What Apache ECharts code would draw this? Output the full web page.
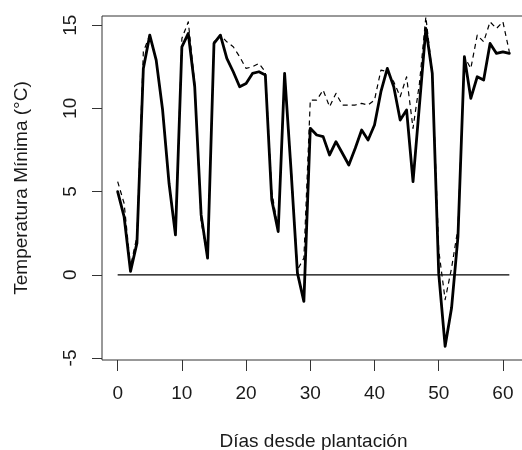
<!DOCTYPE html>
<html>
<head>
<meta charset="utf-8">
<script src="https://cdn.jsdelivr.net/npm/echarts@6/dist/echarts.min.js"></script>
<style>
html,body{margin:0;padding:0;background:#fff;}
#chart{width:522px;height:450px;}
</style>
</head>
<body>
<div id="chart"></div>
<script>
var days = [];
for (var i = 0; i <= 61; i++) days.push(i);

var tminSolid = [5.0, 3.5, 0.2, 1.9, 12.4, 14.4, 12.9, 9.9, 5.5, 2.4,
  13.7, 14.5, 11.3, 3.6, 1.0, 13.9, 14.4, 13.0, 12.2, 11.3,
  11.5, 12.1, 12.2, 12.0, 4.5, 2.6, 12.1, 6.3, 0.1, -1.6,
  8.8, 8.4, 8.3, 7.2, 8.0, 7.3, 6.6, 7.6, 8.7, 8.1,
  9.0, 11.0, 12.4, 11.3, 9.3, 9.9, 5.6, 10.2, 14.8, 12.1,
  0.1, -4.3, -2.0, 2.3, 13.1, 10.6, 11.9, 11.7, 13.9, 13.3,
  13.4, 13.3];

var tminDashed = [5.6, 4.3, 0.5, 2.3, 13.4, 14.4, 12.9, 9.9, 5.5, 2.5,
  14.2, 15.2, 11.5, 3.2, 1.1, 14.0, 14.4, 14.0, 13.7, 13.1,
  12.4, 12.5, 12.7, 12.2, 5.0, 2.7, 12.1, 6.5, 0.3, 1.0,
  10.5, 10.5, 11.1, 10.1, 10.9, 10.2, 10.2, 10.2, 10.3, 10.2,
  10.5, 12.3, 12.2, 11.6, 10.7, 11.9, 8.8, 11.5, 15.5, 12.1,
  1.5, -1.5, 0.4, 2.8, 13.1, 12.4, 14.4, 14.0, 15.2, 14.8,
  15.2, 13.4];

var xTicks = [0, 10, 20, 30, 40, 50, 60];
var yTicks = [-5, 0, 5, 10, 15];
var zeroLine = [[0, 0], [61, 0]];

function pairs(xs, ys) { return xs.map(function (x, i) { return [x, ys[i]]; }); }

var textColor = '#1a1a1a';
var fontFamily = 'Liberation Sans, Arial, sans-serif';
var chart = echarts.init(document.getElementById('chart'), null, { renderer: 'canvas' });
chart.setOption({
  animation: false,
  backgroundColor: '#fff',
  grid: { left: 102, top: 16, width: 423, height: 344, show: true, borderColor: '#333', borderWidth: 1,
    backgroundColor: 'transparent', outerBoundsMode: 'none', containLabel: false },
  xAxis: {
    type: 'value', min: -2.44, max: 63.44,
    name: 'Días desde plantación', nameLocation: 'middle', nameGap: 72,
    nameTextStyle: { color: textColor, fontSize: 19, fontFamily: fontFamily },
    axisLine: { show: false, onZero: false },
    axisTick: { show: true, inside: false, length: 11, customValues: xTicks, lineStyle: { color: '#333', width: 1 } },
    axisLabel: { customValues: xTicks, margin: 24, color: textColor, fontSize: 19, fontFamily: fontFamily },
    splitLine: { show: false }
  },
  yAxis: {
    type: 'value', min: -5.12, max: 15.55,
    name: 'Temperatura Mínima (°C)', nameLocation: 'middle', nameGap: 71, nameRotate: 90,
    nameTextStyle: { color: textColor, fontSize: 19, fontFamily: fontFamily },
    axisLine: { show: false, onZero: false },
    axisTick: { show: true, inside: false, length: 10, customValues: yTicks, lineStyle: { color: '#333', width: 1 } },
    axisLabel: { customValues: yTicks, rotate: 90, margin: 22, color: textColor, fontSize: 19, fontFamily: fontFamily },
    splitLine: { show: false }
  },
  series: [
    { type: 'line', data: zeroLine, symbol: 'none', silent: true,
      lineStyle: { color: '#000', width: 1.3 } },
    { type: 'line', data: pairs(days, tminDashed), symbol: 'none', silent: true,
      lineStyle: { color: '#000', width: 1.2, type: [5, 4], join: 'round' } },
    { type: 'line', data: pairs(days, tminSolid), symbol: 'none', silent: true,
      lineStyle: { color: '#000', width: 2.8, join: 'round', cap: 'round' } }
  ]
});
</script>
</body>
</html>
